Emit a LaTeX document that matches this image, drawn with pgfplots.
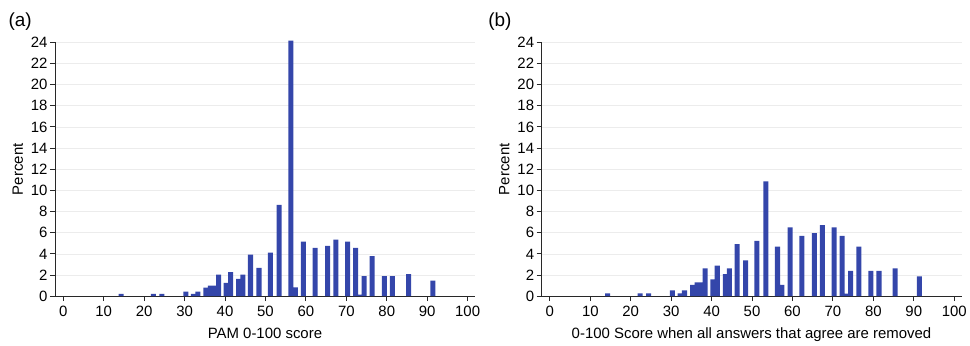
\documentclass[border=0pt]{standalone}
\usepackage{pgfplots}
\pgfplotsset{compat=1.18}
\usepackage{fontspec}
\setmainfont{Liberation Sans}
\definecolor{barblue}{RGB}{52,70,170}
\definecolor{gridgray}{RGB}{236,236,236}
\definecolor{axgray}{RGB}{40,40,40}
\pgfplotstableread{
x a b
14.3 0.22 0.28
22.3 0.22 0.28
24.4 0.22 0.28
30.3 0.44 0.56
32.2 0.22 0.28
33.3 0.44 0.56
35.3 0.82 1.07
36.4 1.00 1.30
37.4 1.00 1.30
38.4 2.05 2.64
40.3 1.26 1.60
41.4 2.27 2.89
43.4 1.64 2.10
44.4 2.05 2.64
46.3 3.94 4.93
48.4 2.68 3.39
51.2 4.13 5.24
53.4 8.63 10.86
56.3 24.15 4.68
57.4 0.84 1.07
59.4 5.17 6.50
62.3 4.57 5.71
65.4 4.76 5.96
67.4 5.35 6.71
70.3 5.17 6.50
72.3 4.57 5.71
73.4 0.15 0.25
74.4 1.89 2.39
76.4 3.78 4.68
79.4 1.89 2.39
81.4 1.89 2.39
85.4 2.10 2.64
91.4 1.48 1.88
}\datatable
\pgfplotsset{
  panel/.style={
    scale only axis,
    width=420bp, height=254bp,
    xmin=-2.05, xmax=101.8,
    ymin=0, ymax=24,
    axis lines*=left,
    axis line style={axgray, line width=0.9pt},
    xtick={0,10,...,100},
    ytick={0,2,...,24},
    tick align=outside,
    major tick length=5bp,
    tick style={axgray, line width=0.9pt},
    ymajorgrids,
    grid style={gridgray, line width=0.6pt},
    ylabel={Percent},
    ylabel style={yshift=1bp},
    xlabel style={yshift=-5bp},
    tick label style={font=\fontsize{15}{17}\selectfont},
    label style={font=\fontsize{15}{17}\selectfont},
    /pgf/number format/assume math mode=true,
    xticklabel style={yshift=-1bp},
    yticklabel style={xshift=1bp},
    ybar, bar width=1.25,
    clip=false,
  }
}
\begin{document}
\begin{tikzpicture}[x=1bp,y=1bp]
\path (0,0) rectangle (970,345);
\begin{axis}[panel, at={(55bp,48.7bp)}, anchor=south west, xlabel={PAM 0-100 score}]
\addplot[fill=barblue, draw=none] table[x=x, y=a] {\datatable};
\end{axis}
\node[font=\fontsize{19}{21}\selectfont, anchor=west] at (5,323) {(a)};
\begin{axis}[panel, at={(541.7bp,48.7bp)}, anchor=south west, xlabel={0-100 Score when all answers that agree are removed}]
\addplot[fill=barblue, draw=none] table[x=x, y=b] {\datatable};
\end{axis}
\node[font=\fontsize{19}{21}\selectfont, anchor=west] at (485,323) {(b)};
\end{tikzpicture}
\end{document}
